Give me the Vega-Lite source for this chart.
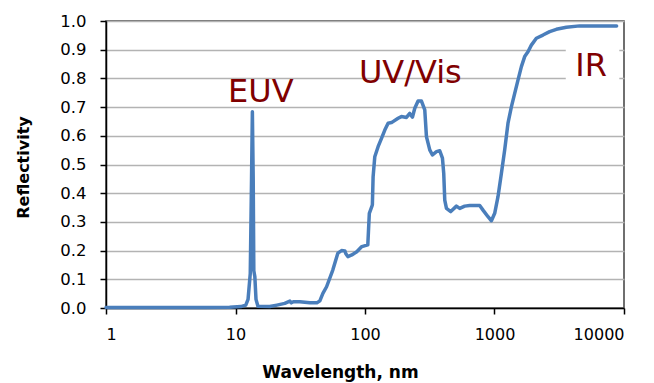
{
  "$schema": "https://vega.github.io/schema/vega-lite/v6.json",
  "width": 518,
  "height": 287,
  "autosize": {"type": "none"},
  "padding": {"left": 106, "top": 21, "right": 30, "bottom": 75},
  "background": "white",
  "config": {"view": {"stroke": "#404040", "strokeWidth": 1.5}, "font": "DejaVu Sans"},
  "datasets": {
    "spectrum": [
      {"wl": 1, "r": 0.002}, {"wl": 3, "r": 0.002}, {"wl": 6, "r": 0.002}, {"wl": 9, "r": 0.003},
      {"wl": 11, "r": 0.005}, {"wl": 12, "r": 0.01}, {"wl": 12.5, "r": 0.03}, {"wl": 13.0, "r": 0.12},
      {"wl": 13.3, "r": 0.45}, {"wl": 13.5, "r": 0.684}, {"wl": 13.7, "r": 0.45}, {"wl": 13.85, "r": 0.13},
      {"wl": 14.1, "r": 0.11}, {"wl": 14.4, "r": 0.03}, {"wl": 14.9, "r": 0.006}, {"wl": 18.4, "r": 0.005},
      {"wl": 20.9, "r": 0.01}, {"wl": 24, "r": 0.016}, {"wl": 26.3, "r": 0.024}, {"wl": 27, "r": 0.018},
      {"wl": 28, "r": 0.022}, {"wl": 31.4, "r": 0.022}, {"wl": 37.5, "r": 0.018}, {"wl": 42.5, "r": 0.018},
      {"wl": 44.8, "r": 0.025}, {"wl": 47.3, "r": 0.051}, {"wl": 50.5, "r": 0.074}, {"wl": 56.4, "r": 0.132},
      {"wl": 61.7, "r": 0.191}, {"wl": 65.9, "r": 0.2}, {"wl": 69.9, "r": 0.199}, {"wl": 71, "r": 0.19},
      {"wl": 73.7, "r": 0.179}, {"wl": 79.1, "r": 0.185}, {"wl": 86.4, "r": 0.196}, {"wl": 94.5, "r": 0.214},
      {"wl": 105.1, "r": 0.22}, {"wl": 108, "r": 0.33}, {"wl": 112.8, "r": 0.353}, {"wl": 114, "r": 0.36},
      {"wl": 115.5, "r": 0.457}, {"wl": 119, "r": 0.527}, {"wl": 126.2, "r": 0.562}, {"wl": 134.1, "r": 0.591},
      {"wl": 142.2, "r": 0.62}, {"wl": 150.8, "r": 0.644}, {"wl": 160.2, "r": 0.646}, {"wl": 180.1, "r": 0.661},
      {"wl": 191.2, "r": 0.667}, {"wl": 209, "r": 0.664}, {"wl": 221.6, "r": 0.678}, {"wl": 232.6, "r": 0.665},
      {"wl": 242.3, "r": 0.696}, {"wl": 256.9, "r": 0.721}, {"wl": 272.9, "r": 0.721}, {"wl": 289.4, "r": 0.69},
      {"wl": 298.2, "r": 0.597}, {"wl": 316.2, "r": 0.551}, {"wl": 331.7, "r": 0.533}, {"wl": 356.1, "r": 0.545},
      {"wl": 377.8, "r": 0.548}, {"wl": 396.3, "r": 0.522}, {"wl": 405.5, "r": 0.469}, {"wl": 412.9, "r": 0.376},
      {"wl": 425.6, "r": 0.347}, {"wl": 459.2, "r": 0.336}, {"wl": 508.2, "r": 0.355}, {"wl": 538.9, "r": 0.347},
      {"wl": 588.9, "r": 0.355}, {"wl": 643.8, "r": 0.357}, {"wl": 768.8, "r": 0.357}, {"wl": 815.3, "r": 0.341},
      {"wl": 891, "r": 0.318}, {"wl": 946.4, "r": 0.304}, {"wl": 1003.5, "r": 0.33}, {"wl": 1064, "r": 0.388},
      {"wl": 1130, "r": 0.469}, {"wl": 1199, "r": 0.551}, {"wl": 1271, "r": 0.644}, {"wl": 1350, "r": 0.701},
      {"wl": 1432, "r": 0.748}, {"wl": 1518, "r": 0.794}, {"wl": 1613, "r": 0.841}, {"wl": 1710, "r": 0.876},
      {"wl": 1814, "r": 0.893}, {"wl": 1926, "r": 0.916}, {"wl": 2105, "r": 0.94}, {"wl": 2367, "r": 0.951},
      {"wl": 2667, "r": 0.963}, {"wl": 3003, "r": 0.971}, {"wl": 3588, "r": 0.978}, {"wl": 4544, "r": 0.983},
      {"wl": 6480, "r": 0.983}, {"wl": 8769, "r": 0.983}
    ],
    "labels": [
      {"wl": 15.7, "r": 0.718, "text": "EUV"},
      {"wl": 224, "r": 0.784, "text": "UV/Vis"},
      {"wl": 5570, "r": 0.808, "text": "IR"}
    ],
    "labelbox": [
      {"wl": 3550, "wl2": 9200, "r": 0.77, "r2": 0.935}
    ]
  },
  "encoding": {
    "x": {
      "field": "wl", "type": "quantitative",
      "scale": {"type": "log", "domain": [1, 10000], "nice": false},
      "axis": {
        "values": [1, 10, 100, 1000, 10000], "format": "d", "grid": false, "labelOverlap": false,
        "domainColor": "#000000", "domainWidth": 1.5, "tickColor": "#000000", "tickWidth": 1.5, "tickSize": 6,
        "labelFontSize": 16, "labelColor": "#000000", "labelPadding": 12, "labelFont": "DejaVu Sans",
        "title": "Wavelength, nm", "titleFontSize": 17, "titleFontWeight": "bold", "titleColor": "#000000",
        "titleX": 234, "titleY": 69, "titleAlign": "center", "titleBaseline": "alphabetic", "titleFont": "DejaVu Sans"
      }
    },
    "y": {
      "field": "r", "type": "quantitative",
      "scale": {"domain": [0, 1], "nice": false},
      "axis": {
        "values": [0, 0.1, 0.2, 0.3, 0.4, 0.5, 0.6, 0.7, 0.8, 0.9, 1.0], "format": ".1f",
        "labelOverlap": false,
        "grid": true, "gridColor": "#b3b3b3", "gridWidth": 1.5,
        "domainColor": "#000000", "domainWidth": 1.5, "tickColor": "#000000", "tickWidth": 1.5, "tickSize": 6,
        "labelFontSize": 16.5, "labelColor": "#000000", "labelPadding": 14, "labelFont": "DejaVu Sans",
        "title": "Reflectivity", "titleFontSize": 16, "titleFontWeight": "bold", "titleColor": "#000000",
        "titleX": -78, "titleY": 146, "titleAngle": 270, "titleAlign": "center", "titleBaseline": "alphabetic", "titleFont": "DejaVu Sans"
      }
    }
  },
  "layer": [
    {
      "data": {"name": "spectrum"},
      "mark": {"type": "line", "color": "#4A7EBB", "strokeWidth": 3.5, "strokeJoin": "round", "strokeCap": "round"}
    },
    {
      "data": {"name": "labelbox"},
      "mark": {"type": "rect", "fill": "white", "stroke": null},
      "encoding": {
        "x2": {"field": "wl2"},
        "y2": {"field": "r2"}
      }
    },
    {
      "data": {"name": "labels"},
      "mark": {"type": "text", "color": "#800000", "fontSize": 32, "font": "DejaVu Sans", "align": "center", "baseline": "alphabetic"},
      "encoding": {
        "text": {"field": "text"}
      }
    }
  ]
}
